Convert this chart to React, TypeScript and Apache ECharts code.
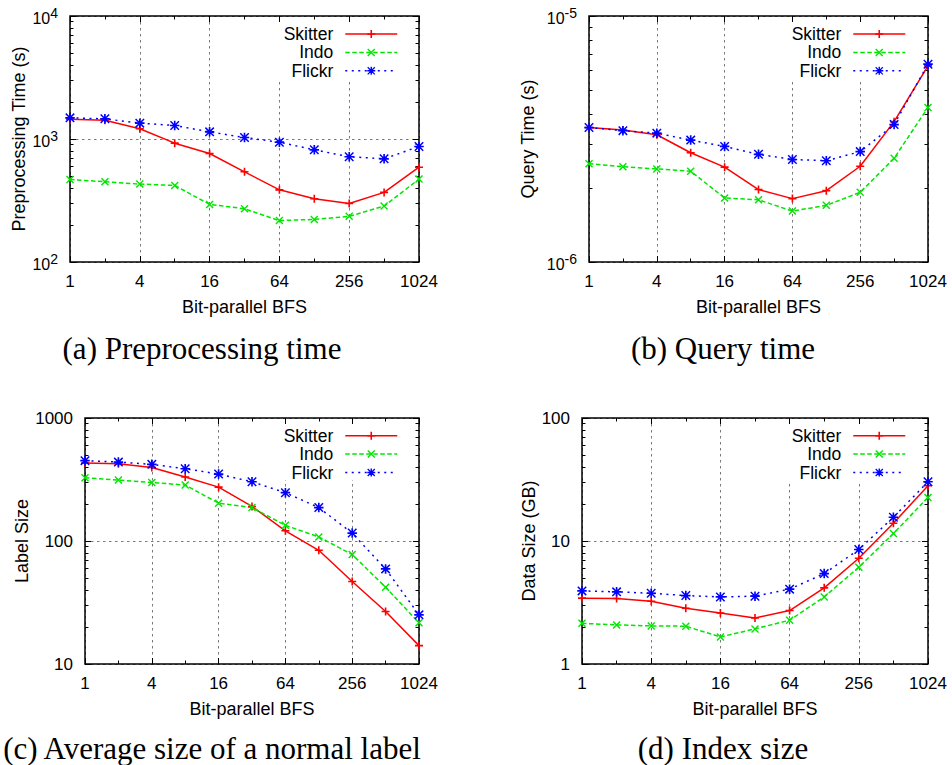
import React, { useEffect, useRef } from 'react';
import * as echarts from 'echarts';

// ---------- data ----------
const BFS = ['1', '2', '4', '8', '16', '32', '64', '128', '256', '512', '1024'];
const SERIES_NAMES = ['Skitter', 'Indo', 'Flickr'];

const PRE_SKITTER = [1450, 1420, 1210, 925, 762, 541, 386, 327, 299, 368, 590];
const PRE_INDO = [469, 449, 430, 419, 294, 271, 217, 222, 235, 285, 472];
const PRE_FLICKR = [1486, 1459, 1345, 1288, 1143, 1028, 942, 817, 717, 690, 869];

const QRY_SKITTER = [3.52e-6, 3.44e-6, 3.29e-6, 2.78e-6, 2.43e-6, 1.97e-6, 1.81e-6, 1.95e-6, 2.45e-6, 3.72e-6, 6.27e-6];
const QRY_INDO = [2.51e-6, 2.44e-6, 2.39e-6, 2.34e-6, 1.82e-6, 1.79e-6, 1.61e-6, 1.7e-6, 1.92e-6, 2.64e-6, 4.25e-6];
const QRY_FLICKR = [3.52e-6, 3.42e-6, 3.34e-6, 3.13e-6, 2.95e-6, 2.74e-6, 2.61e-6, 2.58e-6, 2.81e-6, 3.62e-6, 6.37e-6];

const LBL_SKITTER = [430, 425, 396, 331, 274, 191, 121, 84, 46.8, 26.7, 14.1];
const LBL_INDO = [327, 313, 299, 285, 203, 187, 134, 108, 77.6, 42.1, 21.6];
const LBL_FLICKR = [450, 438, 420, 387, 350, 303, 247, 187, 116, 59.3, 25.1];

const IDX_SKITTER = [3.43, 3.41, 3.24, 2.84, 2.6, 2.37, 2.72, 4.16, 7.24, 13.96, 28.1];
const IDX_INDO = [2.14, 2.08, 2.04, 2.03, 1.66, 1.93, 2.27, 3.51, 6.12, 11.5, 22.6];
const IDX_FLICKR = [3.93, 3.86, 3.76, 3.6, 3.51, 3.56, 4.06, 5.43, 8.53, 15.6, 30.3];

const PANEL_DATA = [
  [PRE_SKITTER, PRE_INDO, PRE_FLICKR],
  [QRY_SKITTER, QRY_INDO, QRY_FLICKR],
  [LBL_SKITTER, LBL_INDO, LBL_FLICKR],
  [IDX_SKITTER, IDX_INDO, IDX_FLICKR],
];

const Y_TITLES = ['Preprocessing Time (s)', 'Query Time (s)', 'Label Size', 'Data Size (GB)'];
const X_TITLE = 'Bit-parallel BFS';
const CAPTIONS = ['(a) Preprocessing time', '(b) Query time', '(c) Average size of a normal label', '(d) Index size'];
const Y_MIN = [1e2, 1e-6, 10, 1];
const Y_MAX = [1e4, 1e-5, 1000, 100];
const Y_SUPERSCRIPT = [true, true, false, false];

// ---------- layout / style ----------
const GRID_BOX = [
  { left: 70, top: 16, width: 349, height: 246 },
  { left: 589, top: 16, width: 339, height: 246 },
  { left: 85, top: 418, width: 334, height: 246 },
  { left: 582, top: 418, width: 346, height: 246 },
];
const Y_NAME_GAP = [42, 52, 52, 41];
const LEGEND_POS = [
  { right: 554, top: 24.8 },
  { right: 46, top: 24.8 },
  { right: 554, top: 426.5 },
  { right: 46, top: 426.5 },
];
const KEY_MASK = [
  { x: 276, y: 17, width: 141.5, height: 65 },
  { x: 789, y: 17, width: 138, height: 65 },
  { x: 282, y: 419, width: 136, height: 61 },
  { x: 786, y: 419, width: 141, height: 62 },
];
const CAPTION_POS = [
  { x: 202, y: 348 },
  { x: 723, y: 348 },
  { x: 212, y: 748 },
  { x: 723, y: 748 },
];

const SANS = '"Liberation Sans", Arial, Helvetica, sans-serif';
const SERIF = '"Liberation Serif", "Times New Roman", serif';

const COLORS = ['#ff0000', '#00e600', '#0000ff'];
const DASHES: any[] = ['solid', [4.5, 2.5], [2, 4.5]];
const PLUS = 'path://M8,0H12V8H20V12H12V20H8V12H0V8H8Z';
const CROSS = 'path://M0,2.5L2.5,0L20,17.5L17.5,20ZM17.5,0L20,2.5L2.5,20L0,17.5Z';
const STAR =
  'path://M8.25,0H11.75V8.25H20V11.75H11.75V20H8.25V11.75H0V8.25H8.25ZM0,2.2L2.2,0L20,17.8L17.8,20ZM17.8,0L20,2.2L2.2,20L0,17.8Z';
const SYMBOLS = [PLUS, CROSS, STAR];
const SYMBOL_SIZES = [8, 8, 9.5];

const GRID_LINE = { color: '#7a7a7a', width: 1, type: [2.5, 3.5] as any };
const TICK_LINE = { color: '#000', width: 1 };

function minorValues(lo: number, hi: number) {
  const out: number[] = [];
  let d = lo;
  while (d < hi * 0.999) {
    for (let k = 2; k <= 9; k++) out.push(k * d);
    d *= 10;
  }
  return out;
}

const even = (i: number) => i % 2 === 0;
const odd = (i: number) => i % 2 === 1;

function buildOption() {
  const grid: any[] = [];
  const xAxis: any[] = [];
  const yAxis: any[] = [];
  const series: any[] = [];
  const legend: any[] = [];
  const graphic: any[] = [];

  GRID_BOX.forEach((box, g) => {
    grid.push({
      ...box,
      show: true,
      borderColor: '#000',
      borderWidth: 1.5,
      backgroundColor: 'transparent',
      z: 2,
    });

    const xBase = {
      type: 'category',
      gridIndex: g,
      data: BFS,
      boundaryGap: false,
      axisLine: { show: false },
      splitLine: { show: false },
      axisLabel: { show: false },
      axisTick: { show: false },
      z: 2,
    };
    xAxis.push({
      ...xBase,
      position: 'bottom',
      splitLine: { show: true, interval: even, lineStyle: GRID_LINE },
      z: 0,
    });
    xAxis.push({
      ...xBase,
      position: 'bottom',
      axisTick: { show: true, inside: true, length: 6, interval: even, lineStyle: TICK_LINE },
      axisLabel: {
        show: true,
        interval: even,
        margin: 10.5,
        fontSize: 17,
        fontFamily: SANS,
        color: '#000',
      },
      name: X_TITLE,
      nameLocation: 'middle',
      nameGap: 36,
      nameTextStyle: { fontSize: 18, fontFamily: SANS, color: '#000' },
    });
    xAxis.push({
      ...xBase,
      position: 'bottom',
      axisTick: { show: true, inside: true, length: 3.5, interval: odd, lineStyle: TICK_LINE },
    });
    xAxis.push({
      ...xBase,
      position: 'top',
      axisTick: { show: true, inside: true, length: 6, interval: even, lineStyle: TICK_LINE },
    });
    xAxis.push({
      ...xBase,
      position: 'top',
      axisTick: { show: true, inside: true, length: 3.5, interval: odd, lineStyle: TICK_LINE },
    });

    const lo = Y_MIN[g];
    const hi = Y_MAX[g];
    const minors = minorValues(lo, hi);
    const yBase = {
      type: 'log',
      logBase: 10,
      gridIndex: g,
      min: lo,
      max: hi,
      axisLine: { show: false },
      splitLine: { show: false },
      axisLabel: { show: false },
      axisTick: { show: false },
      z: 2,
    };
    const labelFormatter = Y_SUPERSCRIPT[g]
      ? (v: number) => `{b|10}{s|${Math.round(Math.log10(v))}}`
      : (v: number) => String(Math.round(v));

    yAxis.push({
      ...yBase,
      position: 'left',
      splitLine: { show: true, lineStyle: GRID_LINE },
      z: 0,
    });
    yAxis.push({
      ...yBase,
      position: 'left',
      axisTick: { show: true, inside: true, length: 6, lineStyle: TICK_LINE },
      axisLabel: {
        show: true,
        margin: 12,
        fontSize: 17,
        fontFamily: SANS,
        color: '#000',
        formatter: labelFormatter,
        rich: {
          b: { fontSize: 16, fontFamily: SANS, color: '#000', padding: [4, 0, 0, 0] },
          s: { fontSize: 14, fontFamily: SANS, color: '#000', padding: [0, 0, 6, 0] },
        },
      },
      name: Y_TITLES[g],
      nameLocation: 'middle',
      nameGap: Y_NAME_GAP[g],
      nameRotate: 90,
      nameTextStyle: { fontSize: 18, fontFamily: SANS, color: '#000' },
    });
    yAxis.push({
      ...yBase,
      position: 'left',
      axisTick: { show: true, inside: true, length: 3.5, customValues: minors, lineStyle: TICK_LINE },
    });
    yAxis.push({
      ...yBase,
      position: 'right',
      axisTick: { show: true, inside: true, length: 6, lineStyle: TICK_LINE },
    });
    yAxis.push({
      ...yBase,
      position: 'right',
      axisTick: { show: true, inside: true, length: 3.5, customValues: minors, lineStyle: TICK_LINE },
    });

    PANEL_DATA[g].forEach((vals, s) => {
      series.push({
        type: 'line',
        name: SERIES_NAMES[s],
        xAxisIndex: g * 5 + 1,
        yAxisIndex: g * 5 + 1,
        data: vals,
        symbol: SYMBOLS[s],
        symbolSize: SYMBOL_SIZES[s],
        showSymbol: true,
        showAllSymbol: true,
        clip: false,
        color: COLORS[s],
        itemStyle: { color: COLORS[s] },
        lineStyle: { color: COLORS[s], width: 1.5, type: DASHES[s] },
        emphasis: { disabled: true },
        z: 3,
      });
    });

    legend.push({
      data: SERIES_NAMES,
      orient: 'vertical',
      align: 'right',
      right: LEGEND_POS[g].right,
      top: LEGEND_POS[g].top,
      padding: 0,
      itemWidth: 52,
      itemHeight: 10,
      itemGap: 0,
      selectedMode: false,
      lineStyle: { width: 1.5 },
      textStyle: {
        fontSize: 17.5,
        lineHeight: 18.4,
        fontFamily: SANS,
        color: '#000',
        padding: [0, 7, 0, 0],
      },
    });

    graphic.push({
      type: 'rect',
      shape: KEY_MASK[g],
      style: { fill: '#fff' },
      z: 1,
      silent: true,
    });
    graphic.push({
      type: 'text',
      x: CAPTION_POS[g].x,
      y: CAPTION_POS[g].y,
      z: 5,
      silent: true,
      style: {
        text: CAPTIONS[g],
        fontSize: 31,
        fontFamily: SERIF,
        fill: '#000',
        textAlign: 'center',
        textVerticalAlign: 'middle',
        align: 'center',
        verticalAlign: 'middle',
      },
    });
  });

  return {
    animation: false,
    backgroundColor: '#fff',
    grid,
    xAxis,
    yAxis,
    series,
    legend,
    graphic,
    tooltip: { show: false },
  };
}

export default function App() {
  const ref = useRef<HTMLDivElement>(null);
  useEffect(() => {
    if (!ref.current) return;
    const chart = echarts.init(ref.current, undefined, { renderer: 'svg' });
    chart.setOption(buildOption() as any);
    return () => chart.dispose();
  }, []);
  return (
    <div
      ref={ref}
      style={{ position: 'absolute', left: 0, top: 0, width: 952, height: 765, background: '#fff' }}
    />
  );
}
